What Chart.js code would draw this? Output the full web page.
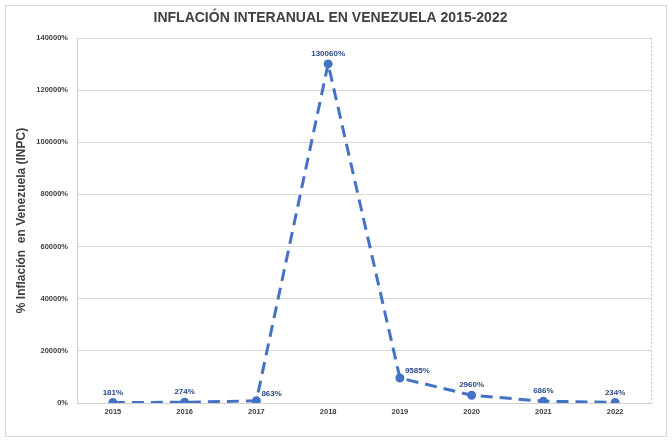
<!DOCTYPE html>
<html>
<head>
<meta charset="utf-8">
<script src="https://cdn.jsdelivr.net/npm/chart.js@4"></script>
<style>
  html, body { margin: 0; padding: 0; background: #fff; }
  #wrap { position: relative; width: 672px; height: 445px; }
  #frame { position: absolute; left: 5px; top: 5px; width: 662px; height: 432px; border: 1px solid #d9d9d9; box-sizing: border-box; pointer-events: none; }
</style>
</head>
<body>
<div id="wrap">
  <canvas id="grafico" width="672" height="445"></canvas>
  <div id="frame"></div>
</div>
<script>
const anios = ['2015', '2016', '2017', '2018', '2019', '2020', '2021', '2022'];
const inflacion = [181, 274, 863, 130060, 9585, 2960, 686, 234];
const ticksY = [0, 20000, 40000, 60000, 80000, 100000, 120000, 140000];

const azul = '#4472C4';
const azulTexto = '#2A4A86';
const fuente = '"Liberation Sans", Arial, sans-serif';

// etiquetas de datos encima de cada punto
const etiquetas = {
  id: 'etiquetas',
  afterDatasetsDraw(chart) {
    const ctx = chart.ctx;
    const meta = chart.getDatasetMeta(0);
    ctx.save();
    ctx.font = 'bold 8px ' + fuente;
    ctx.fillStyle = azulTexto;
    ctx.textBaseline = 'bottom';
    meta.data.forEach((pt, i) => {
      const txt = inflacion[i] + '%';
      if (i === 2 || i === 4) {
        ctx.textAlign = 'left';
        ctx.fillText(txt, pt.x + 5, pt.y - 3);
      } else {
        ctx.textAlign = 'center';
        ctx.fillText(txt, pt.x, pt.y - 6);
      }
    });
    ctx.restore();
  }
};

// borde punteado derecho del área de trazado
const bordeDerecho = {
  id: 'bordeDerecho',
  beforeDatasetsDraw(chart) {
    const { ctx, chartArea } = chart;
    ctx.save();
    ctx.strokeStyle = '#c8c8c8';
    ctx.lineWidth = 1;
    ctx.setLineDash([2, 2]);
    ctx.beginPath();
    ctx.moveTo(chartArea.right + 0.5, chartArea.top);
    ctx.lineTo(chartArea.right + 0.5, chartArea.bottom);
    ctx.stroke();
    ctx.restore();
  }
};

new Chart(document.getElementById('grafico'), {
  type: 'line',
  data: {
    labels: anios,
    datasets: [{
      data: inflacion,
      borderColor: azul,
      backgroundColor: azul,
      borderWidth: 3,
      borderDash: [12, 7],
      pointRadius: 3,
      pointBackgroundColor: azul,
      pointBorderColor: azul,
      tension: 0
    }]
  },
  options: {
    responsive: false,
    animation: false,
    layout: { padding: { top: 10, left: 10, right: 21, bottom: 30 } },
    plugins: {
      legend: { display: false },
      tooltip: { enabled: false },
      title: {
        display: true,
        text: 'INFLACIÓN INTERANUAL EN VENEZUELA 2015-2022',
        color: '#404040',
        font: { family: fuente, size: 14, weight: 'bold' },
        padding: { top: 0, bottom: 11.2 }
      }
    },
    scales: {
      x: {
        offset: true,
        grid: { display: false, drawTicks: false },
        border: { color: '#d0d0d0' },
        ticks: {
          color: '#404040',
          padding: 4,
          font: { family: fuente, size: 7.5, weight: 'bold' }
        },
        afterFit(scale) { scale.height = 12; }
      },
      y: {
        min: 0,
        max: 140000,
        afterBuildTicks(scale) { scale.ticks = ticksY.map(v => ({ value: v })); },
        grid: {
          color: '#d9d9d9',
          drawTicks: false,
          borderDash: (c) => (c.tick && c.tick.value === 140000 ? [2, 2] : [])
        },
        border: { color: '#d0d0d0' },
        ticks: {
          color: '#404040',
          padding: 9,
          font: { family: fuente, size: 7.5, weight: 'bold' },
          callback: (v) => v + '%'
        },
        title: {
          display: true,
          text: '% Inflación  en Venezuela (INPC)',
          color: '#404040',
          font: { family: fuente, size: 12, weight: 'bold' },
          padding: { top: 4, bottom: 0 }
        },
        afterFit(scale) { scale.width = 67; }
      }
    }
  },
  plugins: [etiquetas, bordeDerecho]
});
</script>
</body>
</html>
